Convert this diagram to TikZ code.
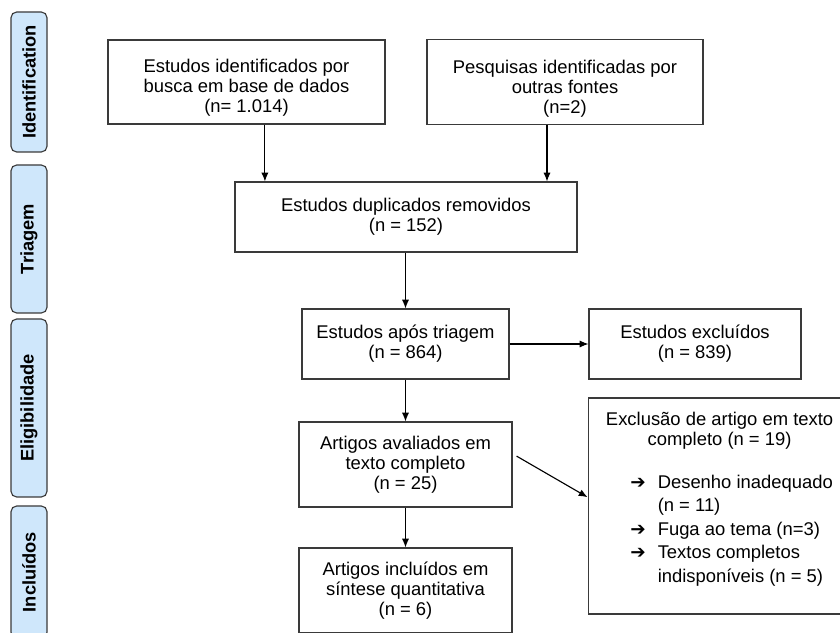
\documentclass[tikz,border=0pt]{standalone}
\usepackage{fontspec}
\setmainfont{Liberation Sans}
\newfontfamily\symfont{DejaVu Sans}
\usetikzlibrary{arrows.meta}

\definecolor{labelblue}{HTML}{CFE7FB}
\definecolor{linegray}{HTML}{3A3A3A}

\begin{document}
\begin{tikzpicture}[
	box/.style={draw=linegray, line width=0.8pt, align=center, inner sep=0pt, font=\fontsize{13.1}{14.2}\selectfont},
	stage/.style={draw=linegray, line width=0.8pt, fill=labelblue, rounded corners=4pt, minimum height=0.9cm, inner sep=0pt, rotate=90, font=\fontsize{13}{15}\selectfont\bfseries},
	arr/.style={-{Latex[length=2.2mm,width=1.8mm]}, line width=0.8pt}
	]
				\useasboundingbox (0,0) rectangle (21,-15.825);
				\clip (0,0) rectangle (21,-15.825);
				
				\node[stage, minimum width=3.5cm] (ident) at (0.725,-2.05) {Identification};
				\node[stage, minimum width=3.7cm] (triag) at (0.725,-5.975) {Triagem};
				\node[stage, minimum width=4.45cm] (eleg) at (0.725,-10.2) {Eligibilidade};
				\node[stage, minimum width=3.3cm] (incl) at (0.725,-14.3) {Incluídos};
				
				\node[box, minimum width=6.925cm, minimum height=2.1cm] (b1) at (6.1625,-2.05) {\rule{0pt}{0.63cm}Estudos identificados por\\busca em base de dados\\(n= 1.014)};
				\node[box, minimum width=6.9cm, minimum height=2.125cm] (b2) at (14.125,-2.06) {\rule{0pt}{0.63cm}Pesquisas identificadas por\\outras fontes\\(n=2)};
				\node[box, minimum width=8.55cm, minimum height=1.75cm] (b3) at (10.15,-5.425) {Estudos duplicados removidos\\(n = 152)};
				\node[box, minimum width=5.175cm, minimum height=1.75cm] (b4) at (10.1375,-8.6) {Estudos após triagem\\(n = 864)};
				\node[box, minimum width=5.3cm, minimum height=1.75cm] (b5) at (17.375,-8.6) {Estudos excluídos\\(n = 839)};
				\node[box, minimum width=5.325cm, minimum height=2.125cm] (b6) at (10.1375,-11.6125) {Artigos avaliados em\\texto completo\\(n = 25)};
				\node[box, minimum width=5.325cm, minimum height=2.125cm] (b8) at (10.1375,-14.7625) {Artigos incluídos em\\síntese quantitativa\\(n = 6)};
				\node[box, minimum width=6.575cm, minimum height=5.4cm] (b7) at (17.99,-12.65) {\begin{tabular}{@{}c@{}}
					Exclusão de artigo em texto\\
					completo (n = 19)\\[0.5cm]
					\hspace{0.6cm}\renewcommand{\arraystretch}{1.18}\begin{tabular}{@{}l@{\hspace{0.3cm}}l@{}}
						{\symfont\bfseries ➔} & Desenho inadequado\\
						& (n = 11)\\
						{\symfont\bfseries ➔} & Fuga ao tema (n=3)\\
						{\symfont\bfseries ➔} & Textos completos\\
						& indisponíveis (n = 5)\rule[-0.45cm]{0pt}{0.45cm}
					\end{tabular}
				\end{tabular}};
				
				\draw[arr] ([xshift=0.46cm]b1.south) -- ([xshift=0.46cm]b1.south |- b3.north);
				\draw[arr] ([xshift=-0.45cm]b2.south) -- ([xshift=-0.45cm]b2.south |- b3.north);
				\draw[arr] (b4.north |- b3.south) -- (b4.north);
				\draw[arr] (b4.east) -- (b5.west);
				\draw[arr] (b4.south) -- (b6.north);
				\draw[arr] (b6.south) -- (b8.north);
				\draw[arr] ([shift={(0.1,0.21)}]b6.east) -- ([yshift=0.22cm]b7.west);
			\end{tikzpicture}
\end{document}
